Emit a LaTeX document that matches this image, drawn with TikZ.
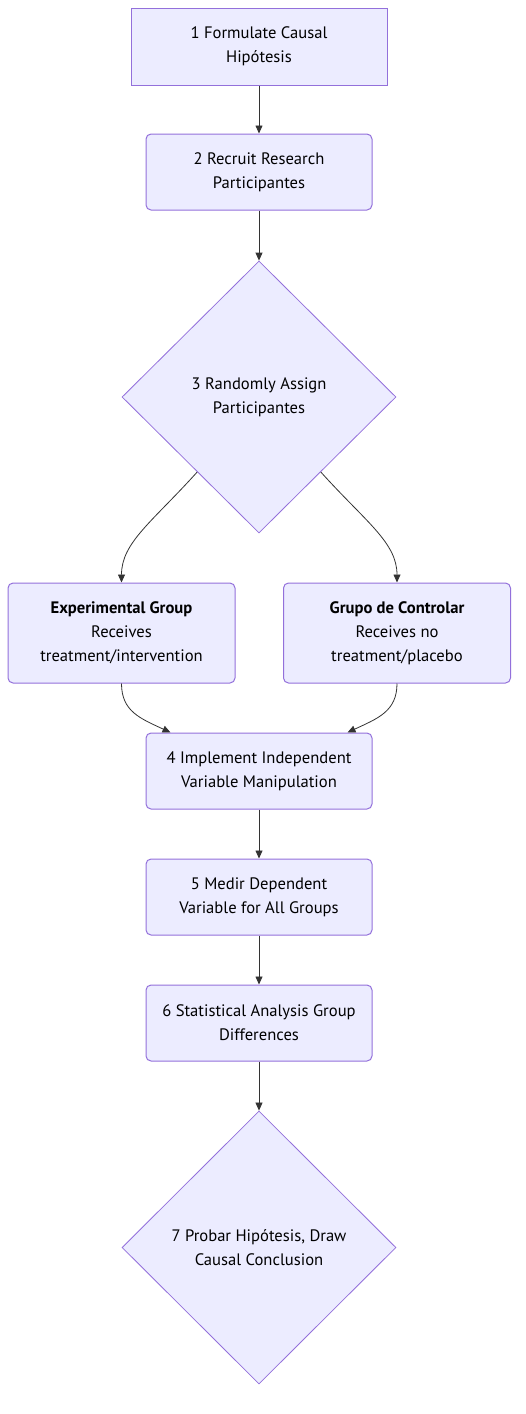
\documentclass[tikz,border=0pt]{standalone}
\usepackage{fontspec}
\setmainfont{PT Sans}
\usepackage{tikz}
\usetikzlibrary{shapes.geometric,arrows.meta,positioning,calc}
\definecolor{boxfill}{HTML}{ECECFF}
\definecolor{boxline}{HTML}{9370DB}
\definecolor{edgeline}{HTML}{333333}
\begin{document}
\begin{tikzpicture}[
    x=1pt, y=-1pt,
    font=\fontsize{16.6}{24}\selectfont,
    box/.style={rectangle, draw=boxline, fill=boxfill, line width=1pt, minimum width=226pt, minimum height=76pt, align=center, inner sep=0pt},
    rbox/.style={box, rounded corners=5pt},
    decision/.style={diamond, draw=boxline, fill=boxfill, line width=0.8pt, minimum width=274pt, minimum height=272pt, align=center, inner sep=0pt},
    arrow/.style={-{Stealth[length=8pt, width=7pt, inset=0pt]}, draw=edgeline, line width=0.8pt}
]
    \useasboundingbox (0,0) rectangle (526,1414);

    % --- top steps ---
    \node[box, minimum width=256pt, minimum height=77pt] (s1) at (259,46.5) {1 Formulate Causal\\Hipótesis};
    \node[rbox] (s2) at (259,172) {2 Recruit Research\\Participantes};
    \node[decision] (s3) at (259,397) {3 Randomly Assign\\Participantes};

    % --- the two groups ---
    \node[rbox, minimum width=227pt, minimum height=100pt] (grpexp) at (121.5,633) {\textbf{Experimental Group}\\Receives\\treatment/intervention};
    \node[rbox, minimum width=227pt, minimum height=100pt] (grpctl) at (397,633) {\textbf{Grupo de Controlar}\\Receives no\\treatment/placebo};

    % --- lower steps ---
    \node[rbox] (s4) at (259,771) {4 Implement Independent\\Variable Manipulation};
    \node[rbox] (s5) at (259,897) {5 Medir Dependent\\Variable for All Groups};
    \node[rbox] (s6) at (259,1023) {6 Statistical Analysis Group\\Differences};
    \node[decision, minimum height=273pt] (s7) at (259,1247.5) {7 Probar Hipótesis, Draw\\Causal Conclusion};

    % --- connectors ---
    \draw[arrow] (s1) -- (s2);
    \draw[arrow] (s2) -- (s3);
    \draw[arrow] ($(s3.west)!0.55!(s3.south)$) .. controls +(-45,50) and +(0,-40) .. (grpexp.north);
    \draw[arrow] ($(s3.east)!0.55!(s3.south)$) .. controls +(45,50) and +(0,-40) .. (grpctl.north);
    \draw[arrow] (grpexp.south) .. controls +(0,28) and +(-30,-14) .. ($(s4.north west)+(25,0)$);
    \draw[arrow] (grpctl.south) .. controls +(0,28) and +(30,-14) .. ($(s4.north east)+(-25,0)$);
    \draw[arrow] (s4) -- (s5);
    \draw[arrow] (s5) -- (s6);
    \draw[arrow] (s6) -- (s7);

\end{tikzpicture}
\end{document}
